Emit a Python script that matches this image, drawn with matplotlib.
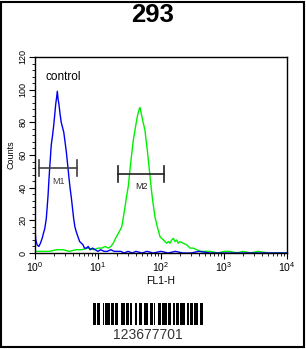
import matplotlib
matplotlib.use("Agg")
import matplotlib.pyplot as plt
from matplotlib.patches import Rectangle
from matplotlib.ticker import FixedLocator, FixedFormatter, MultipleLocator, NullFormatter
import numpy as np

plt.rcParams['font.family'] = ['Liberation Sans', 'DejaVu Sans']
plt.rcParams['mathtext.fontset'] = 'custom'
plt.rcParams['mathtext.rm'] = 'Liberation Sans'
plt.rcParams['mathtext.it'] = 'Liberation Sans'

title = "293"
xlabel = "FL1-H"
ylabel = "Counts"
legend_text = "control"
barcode_text = "123677701"

xtick_values = [1, 10, 100, 1000, 10000]
xtick_labels = [r"10$^0$", r"10$^1$", r"10$^2$", r"10$^3$", r"10$^4$"]
ytick_values = [0, 20, 40, 60, 80, 100, 120]

# control (blue) histogram
blue_x = [1.00, 1.03, 1.08, 1.15, 1.22, 1.30, 1.36, 1.43, 1.51, 1.56,
          1.61, 1.66, 1.71, 1.76, 1.81, 1.90, 1.98, 2.05, 2.13, 2.20,
          2.26, 2.33, 2.40, 2.50, 2.61, 2.73, 2.86, 3.00, 3.14, 3.30,
          3.46, 3.60, 3.77, 3.95, 4.11, 4.30, 4.52, 4.80, 5.12, 5.45,
          5.78, 6.10, 6.52, 7.00, 7.50, 8.20, 9.00, 10.0, 11.0, 12.5,
          14.0, 16.0, 18.0, 20.0, 23.0, 26.0, 30.0, 35.0, 40.0, 50.0,
          60.0, 75.0, 100, 130, 170, 220, 300, 400, 600, 1000,
          2000, 5000, 10000]
blue_counts = [14, 8, 5, 4, 6, 9, 12, 15, 21, 28,
               35, 44, 52, 59, 66, 72, 78, 84, 91, 95,
               99, 94, 91, 85, 80, 77, 74, 68, 62, 54,
               46, 40, 34, 27, 21, 16, 13, 10, 7, 6,
               5, 3, 3, 4, 2, 3, 2, 1, 2, 1,
               1, 2, 1, 1, 1, 0, 1, 0, 1, 0,
               1, 0, 1, 0, 1, 0, 0, 1, 0, 0,
               0, 0, 0]

# sample (green) histogram
green_x = [1.00, 1.3, 1.7, 2.2, 2.8, 3.5, 4.5, 5.5, 7.0, 8.5,
           10.0, 11.5, 13.0, 14.5, 16.0, 17.5, 19.0, 21.0, 22.4, 23.8,
           25.3, 26.8, 28.5, 30.3, 31.6, 33.0, 34.6, 36.3, 38.2, 40.1,
           41.8, 43.6, 45.0, 46.4, 48.8, 51.3, 53.5, 55.7, 58.0, 60.6,
           63.7, 66.9, 70.3, 73.8, 77.0, 80.3, 83.8, 87.4, 92.0, 96.4,
           102, 109, 116, 123, 131, 139, 148, 157, 167, 177,
           188, 200, 225, 256, 290, 326, 370, 416, 500, 600,
           800, 1000, 1245, 1600, 2000, 2588, 3500, 5000, 7000, 10000]
green_counts = [1, 1, 1, 2, 2, 1, 2, 2, 3, 2,
                3, 3, 4, 3, 4, 6, 9, 12, 14, 16,
                22, 28, 35, 41, 48, 55, 62, 69, 74, 79,
                83, 86, 88, 89, 85, 81, 78, 75, 69, 63,
                55, 47, 39, 32, 27, 22, 19, 16, 13, 10,
                9, 8, 7, 6, 7, 6, 8, 9, 7, 8,
                6, 7, 6, 5, 3, 3, 2, 1, 1, 1,
                0, 1, 1, 0, 1, 0, 1, 0, 0, 0]

# markers
marker_names = ["M1", "M2"]
marker_start = [1.17, 21.0]
marker_end = [4.6, 113.0]
marker_level = [52, 48.5]
marker_colors = ["#404040", "#202020"]

barcode_pattern = ("11011001011101101100111011010011011001110110100110"
                   "111011001011011100101101110110")

W, H = 306, 349
fig = plt.figure(figsize=(W / 100, H / 100), dpi=100)
fig.patch.set_facecolor("white")

ax = fig.add_axes([35 / W, 1 - 253 / H, 252 / W, 196 / H])
ax.plot(green_x, green_counts, color="#00f000", lw=1.0)
ax.plot(blue_x, blue_counts, color="#0000f0", lw=1.0)
ax.set_xscale("log")
ax.set_xlim(1, 10000)
ax.set_ylim(0, 120)

ax.xaxis.set_major_locator(FixedLocator(xtick_values))
ax.xaxis.set_major_formatter(FixedFormatter(xtick_labels))
minor = [m * d for d in [1, 10, 100, 1000] for m in range(2, 10)]
ax.xaxis.set_minor_locator(FixedLocator(minor))
ax.xaxis.set_minor_formatter(NullFormatter())
ax.yaxis.set_major_locator(FixedLocator(ytick_values))
ax.yaxis.set_minor_locator(MultipleLocator(4))
ax.tick_params(axis="both", which="major", length=4, width=0.8, labelsize=7.5, pad=1.5)
ax.tick_params(axis="both", which="minor", length=2, width=0.6)
ax.tick_params(axis="y", labelsize=6.5)
for lab in ax.get_yticklabels():
    lab.set_rotation(90)
    lab.set_va("center")
for s in ax.spines.values():
    s.set_linewidth(1.0)

ax.set_xlabel(xlabel, fontsize=7.5, labelpad=1)
ax.set_ylabel(ylabel, fontsize=6.5, labelpad=2)

ax.text(1.45, 106, legend_text, fontsize=8.5, ha="left", va="baseline")

for name, a, b, lvl, c in zip(marker_names, marker_start, marker_end, marker_level, marker_colors):
    ax.plot([a, b], [lvl, lvl], color=c, lw=1.2)
    ax.plot([a, a], [lvl - 5, lvl + 5], color=c, lw=1.2)
    ax.plot([b, b], [lvl - 5, lvl + 5], color=c, lw=1.2)
    ax.text(np.sqrt(a * b), lvl - 8, name, fontsize=6.5, color=c, ha="center", va="center")

fig.text(153 / W, 1 - 15 / H, title, fontsize=18.5, fontweight="bold", ha="center", va="center")

# barcode
bax = fig.add_axes([93 / W, 1 - 325 / H, 111 / W, 22 / H])
bits = [int(ch) for ch in barcode_pattern]
bax.bar(range(len(bits)), bits, width=1.0, align="edge", color="black", linewidth=0)
bax.set_xlim(0, len(bits))
bax.set_ylim(0, 1)
bax.axis("off")
fig.text(148 / W, 1 - 335 / H, barcode_text, fontsize=10, color="#333333", ha="center", va="center")

# outer frame
fig.patches.append(Rectangle((1 / W, 2 / H), 303 / W, 345 / H, transform=fig.transFigure,
                             fill=False, edgecolor="black", lw=1.5))

fig.savefig("out.png", dpi=100)
